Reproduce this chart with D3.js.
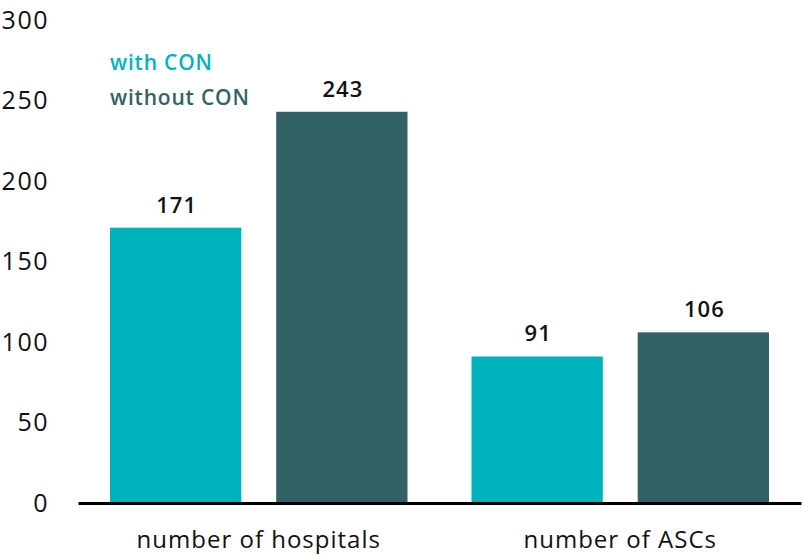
<!DOCTYPE html>
<html><head><meta charset="utf-8">
<script src="https://cdn.jsdelivr.net/npm/d3@7"></script>
<style>body{margin:0;background:#fff}text{font-family:"Open Sans",sans-serif}</style>
</head><body><svg id="c" width="803" height="555"></svg>
<script>
const categories = ["number of hospitals", "number of ASCs"];
const seriesNames = ["with CON", "without CON"];
const withCON = [171, 91];
const withoutCON = [243, 106];
const yTicks = [0, 50, 100, 150, 200, 250, 300];
const colors = ["#00b2bc", "#336266"];
const FONT = '"Open Sans", sans-serif';

const svg = d3.select("#c");
const x0 = d3.scaleBand().domain(categories).range([78, 801]).paddingInner(0).paddingOuter(0);
const x1 = d3.scaleBand().domain(seriesNames).range([32, x0.bandwidth() - 32]).paddingInner(0.21);
const y = d3.scaleLinear().domain([0, 300]).range([503, 20]);

const yAxis = svg.append("g").attr("transform", "translate(49,0)")
  .call(d3.axisLeft(y).tickValues(yTicks).tickSize(0).tickPadding(0));
yAxis.select(".domain").remove();
yAxis.selectAll("text").attr("font-size", 25).attr("fill", "#111").attr("font-family", FONT)
  .attr("letter-spacing", "1.5px").attr("dy", "0.33em");

const data = categories.map((c, i) => ({cat: c, vals: [withCON[i], withoutCON[i]]}));
const g = svg.selectAll("g.grp").data(data).join("g").attr("class", "grp")
  .attr("transform", d => `translate(${x0(d.cat)},0)`);
g.selectAll("rect").data(d => d.vals.map((v, j) => ({s: seriesNames[j], v, j})))
  .join("rect")
  .attr("x", d => x1(d.s)).attr("width", x1.bandwidth())
  .attr("y", d => y(d.v)).attr("height", d => y(0) - y(d.v))
  .attr("fill", d => colors[d.j]);
g.selectAll("text.val").data(d => d.vals.map((v, j) => ({s: seriesNames[j], v, j})))
  .join("text").attr("class", "val")
  .attr("x", d => x1(d.s) + x1.bandwidth() / 2 + 1).attr("y", d => y(d.v) - 15)
  .attr("text-anchor", "middle").attr("font-size", 22).attr("font-weight", 600).attr("fill", "#111")
  .attr("letter-spacing", "1px")
  .text(d => d.v);

const xAxis = svg.append("g").attr("transform", "translate(0,503)")
  .call(d3.axisBottom(x0).tickSize(0).tickPadding(0));
xAxis.select(".domain").attr("stroke", "#000").attr("stroke-width", 3);
xAxis.selectAll("text").attr("font-size", 24).attr("fill", "#111").attr("font-family", FONT)
  .attr("letter-spacing", "1px").attr("y", 45).attr("dy", 0);

const leg = svg.append("g");
seriesNames.forEach((s, i) => {
  leg.append("text").attr("x", 110).attr("y", 70 + i * 35).attr("font-size", 21).attr("font-weight", 600)
    .attr("letter-spacing", "0.8px").attr("fill", colors[i]).text(s);
});
</script></body></html>
